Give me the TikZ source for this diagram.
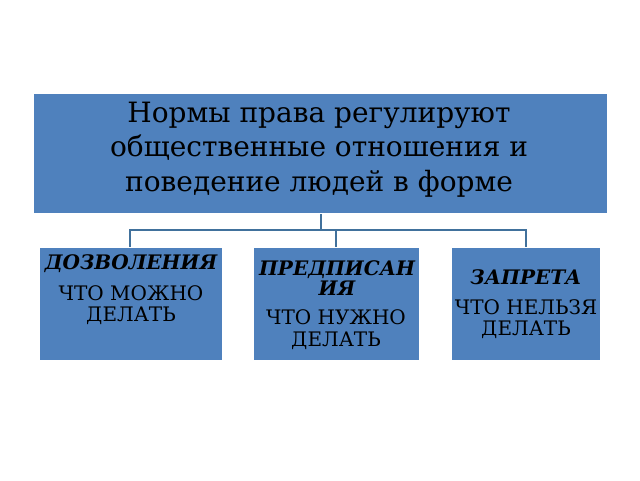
\documentclass[tikz,border=0pt]{standalone}
\usepackage{fontspec}
\setmainfont{DejaVu Serif}
\definecolor{boxfill}{HTML}{4F81BD}
\definecolor{linkcol}{HTML}{41719C}
\begin{document}
\begin{tikzpicture}[x=1pt,y=-1pt,
  box/.style={draw=white,line width=1pt,fill=boxfill,anchor=north west,inner sep=0pt},
  link/.style={draw=linkcol,line width=1.6pt},
  toptext/.style={font=\fontsize{28}{34.5}\selectfont,align=center,text=black},
  headtext/.style={font=\fontsize{20}{20.5}\selectfont\bfseries\itshape,align=center,text=black},
  bodytext/.style={font=\fontsize{20}{21.5}\selectfont,align=center,text=black}]
\useasboundingbox (0,0) rectangle (640,480);
\node[box,minimum width=574pt,minimum height=120pt] (top) at (33,93) {};
\node[box,minimum width=183pt,minimum height=113pt] (b1) at (39,247) {};
\node[box,minimum width=166pt,minimum height=113pt] (b2) at (253,247) {};
\node[box,minimum width=149pt,minimum height=113pt] (b3) at (451,247) {};
\node[toptext] (tt) at (319,149.5) {Нормы права регулируют\\общественные отношения и\\поведение людей в форме};
\node[headtext] (h1) at (131,263.5) {ДОЗВОЛЕНИЯ};
\node[bodytext] (t1) at (131,305) {ЧТО МОЖНО\\ДЕЛАТЬ};
\node[headtext] (h2) at (337,278) {ПРЕДПИСАН\\ИЯ};
\node[bodytext] (t2) at (336,329.5) {ЧТО НУЖНО\\ДЕЛАТЬ};
\node[headtext] (h3) at (526,277.5) {ЗАПРЕТА};
\node[bodytext] (t3) at (526,319) {ЧТО НЕЛЬЗЯ\\ДЕЛАТЬ};
\coordinate (j) at (321,230);
\draw[link] (top.south -| j) -- (j);
\draw[link] (b1.north -| 130,0) -- (130,230) -- (526,230) -- (b3.north -| 526,0);
\draw[link] (336,230) -- (b2.north -| 336,0);
\end{tikzpicture}
\end{document}
